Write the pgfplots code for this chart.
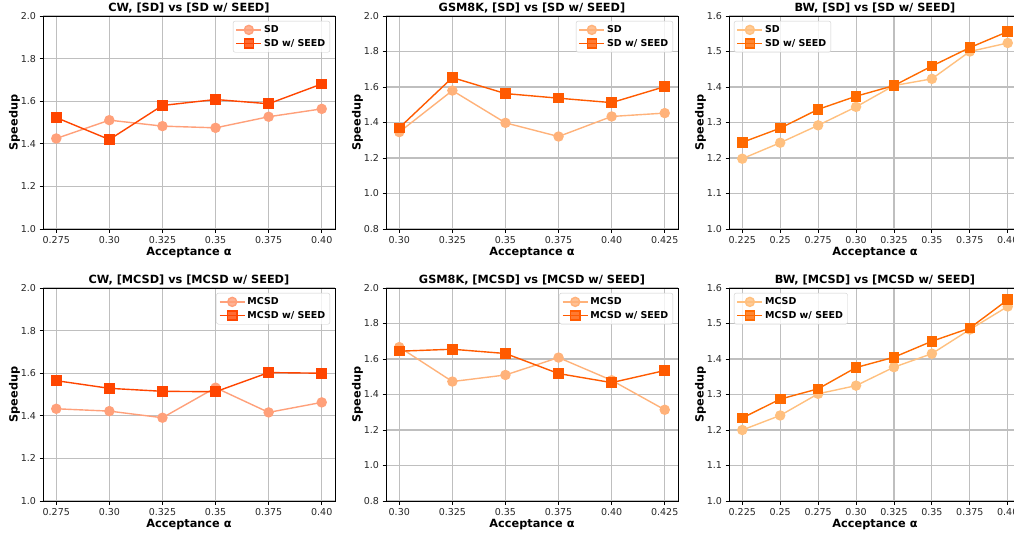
\documentclass[border=0pt]{standalone}
\usepackage{fontspec}
\setmainfont{DejaVu Sans}
\usepackage{pgfplots}
\usepackage{pgfplotstable}
\pgfplotsset{compat=1.18}

\definecolor{cwA}{HTML}{FFA07A}
\definecolor{cwB}{HTML}{FF4500}
\definecolor{gsA}{HTML}{FFB27A}
\definecolor{gsB}{HTML}{FF5A00}
\definecolor{bwA}{HTML}{FFC07F}
\definecolor{bwB}{HTML}{FF6A00}

% x, plain method, method w/ SEED
\pgfplotstableread{
x     base   seed
0.275 1.425  1.523
0.300 1.511  1.420
0.325 1.483  1.580
0.350 1.475  1.608
0.375 1.527  1.588
0.400 1.564  1.681
}\cwsd
\pgfplotstableread{
x     base   seed
0.300 1.346  1.370
0.325 1.580  1.653
0.350 1.398  1.563
0.375 1.321  1.537
0.400 1.434  1.512
0.425 1.453  1.602
}\gssd
\pgfplotstableread{
x     base   seed
0.225 1.198  1.244
0.250 1.243  1.284
0.275 1.292  1.337
0.300 1.344  1.374
0.325 1.404  1.404
0.350 1.423  1.459
0.375 1.500  1.511
0.400 1.524  1.556
}\bwsd
\pgfplotstableread{
x     base   seed
0.275 1.433  1.565
0.300 1.422  1.529
0.325 1.391  1.515
0.350 1.532  1.513
0.375 1.416  1.603
0.400 1.463  1.600
}\cwmc
\pgfplotstableread{
x     base   seed
0.300 1.667  1.644
0.325 1.473  1.655
0.350 1.510  1.631
0.375 1.608  1.518
0.400 1.480  1.467
0.425 1.314  1.535
}\gsmc
\pgfplotstableread{
x     base   seed
0.225 1.200  1.234
0.250 1.241  1.287
0.275 1.302  1.316
0.300 1.325  1.376
0.325 1.377  1.405
0.350 1.415  1.450
0.375 1.483  1.487
0.400 1.548  1.567
}\bwmc

\pgfplotsset{
  panel/.style={
    scale only axis, width=292pt, height=213pt, anchor=north west,
    grid=major, major grid style={line width=1.1pt, color=black!25},
    axis line style={line width=0.8pt},
    tick align=outside, tick pos=left, major tick length=3.5pt,
    tick style={line width=0.8pt, black},
    /pgf/number format/assume math mode=true,
    ticklabel style={font=\fontsize{9.5}{11}\selectfont, color=black!85},
    yticklabel={\pgfmathprintnumber[fixed,fixed zerofill,precision=1]{\tick}},
    xlabel={Acceptance α}, ylabel={Speedup},
    label style={font=\fontsize{11.3}{13}\selectfont\bfseries},
    xlabel style={yshift=3pt},
    ylabel style={yshift=-6pt},
    title style={font=\fontsize{11.3}{13}\selectfont\bfseries, yshift=-7pt},
    legend style={font=\fontsize{9.5}{11}\selectfont\bfseries, draw=black!20,
      rounded corners=2pt, fill=white, fill opacity=0.8, text opacity=1,
      row sep=1pt, inner sep=2.5pt},
    legend cell align=left,
    legend image code/.code={
      \draw[mark repeat=2, mark phase=2] plot coordinates {(0pt,0pt) (12.5pt,0pt) (25pt,0pt)};},
  },
  six/.style={xmin=0.26875, xmax=0.40625,
    xtick={0.275,0.30,0.325,0.35,0.375,0.40},
    xticklabels={0.275,0.30,0.325,0.35,0.375,0.40}},
  sixg/.style={xmin=0.29375, xmax=0.43125,
    xtick={0.30,0.325,0.35,0.375,0.40,0.425},
    xticklabels={0.30,0.325,0.35,0.375,0.40,0.425}},
  eight/.style={xmin=0.21625, xmax=0.40875,
    xtick={0.225,0.25,0.275,0.30,0.325,0.35,0.375,0.40},
    xticklabels={0.225,0.25,0.275,0.30,0.325,0.35,0.375,0.40}},
  ur/.style={legend style={at={(0.983,0.977)}, anchor=north east}},
  ul/.style={legend style={at={(0.017,0.977)}, anchor=north west}},
  base/.style={line width=1.4pt, color=#1, mark=*, mark size=4.5pt,
    mark options={solid, fill=#1, draw=#1}},
  seed/.style={line width=1.4pt, color=#1, mark=square*, mark size=4.6pt,
    mark options={solid, fill=#1, draw=#1}},
}

\begin{document}
\begin{tikzpicture}
\useasboundingbox (0pt,0pt) rectangle (1014pt,-536pt);
\clip (0pt,0pt) rectangle (1014pt,-536pt);

% top row
\begin{axis}[panel, six, ur, at={(43pt,-16pt)}, ymin=1.0, ymax=2.0,
  ytick={1.0,1.2,...,2.0}, title={CW, [SD] vs [SD w/ SEED]}]
\addplot[base=cwA] table[x=x, y=base] {\cwsd};
\addlegendentry{SD}
\addplot[seed=cwB] table[x=x, y=seed] {\cwsd};
\addlegendentry{SD w/ SEED}
\end{axis}

\begin{axis}[panel, sixg, ur, at={(386pt,-16pt)}, ymin=0.8, ymax=2.0,
  ytick={0.8,1.0,...,2.0}, title={GSM8K, [SD] vs [SD w/ SEED]}]
\addplot[base=gsA] table[x=x, y=base] {\gssd};
\addlegendentry{SD}
\addplot[seed=gsB] table[x=x, y=seed] {\gssd};
\addlegendentry{SD w/ SEED}
\end{axis}

\begin{axis}[panel, eight, ul, at={(729pt,-16pt)}, ymin=1.0, ymax=1.6,
  ytick={1.0,1.1,...,1.6}, title={BW, [SD] vs [SD w/ SEED]}]
\addplot[base=bwA] table[x=x, y=base] {\bwsd};
\addlegendentry{SD}
\addplot[seed=bwB] table[x=x, y=seed] {\bwsd};
\addlegendentry{SD w/ SEED}
\end{axis}

% bottom row
\begin{axis}[panel, six, ur, at={(43pt,-288pt)}, ymin=1.0, ymax=2.0,
  ytick={1.0,1.2,...,2.0}, title={CW, [MCSD] vs [MCSD w/ SEED]}]
\addplot[base=cwA] table[x=x, y=base] {\cwmc};
\addlegendentry{MCSD}
\addplot[seed=cwB] table[x=x, y=seed] {\cwmc};
\addlegendentry{MCSD w/ SEED}
\end{axis}

\begin{axis}[panel, sixg, ur, at={(386pt,-288pt)}, ymin=0.8, ymax=2.0,
  ytick={0.8,1.0,...,2.0}, title={GSM8K, [MCSD] vs [MCSD w/ SEED]}]
\addplot[base=gsA] table[x=x, y=base] {\gsmc};
\addlegendentry{MCSD}
\addplot[seed=gsB] table[x=x, y=seed] {\gsmc};
\addlegendentry{MCSD w/ SEED}
\end{axis}

\begin{axis}[panel, eight, ul, at={(729pt,-288pt)}, ymin=1.0, ymax=1.6,
  ytick={1.0,1.1,...,1.6}, title={BW, [MCSD] vs [MCSD w/ SEED]}]
\addplot[base=bwA] table[x=x, y=base] {\bwmc};
\addlegendentry{MCSD}
\addplot[seed=bwB] table[x=x, y=seed] {\bwmc};
\addlegendentry{MCSD w/ SEED}
\end{axis}
\end{tikzpicture}
\end{document}
